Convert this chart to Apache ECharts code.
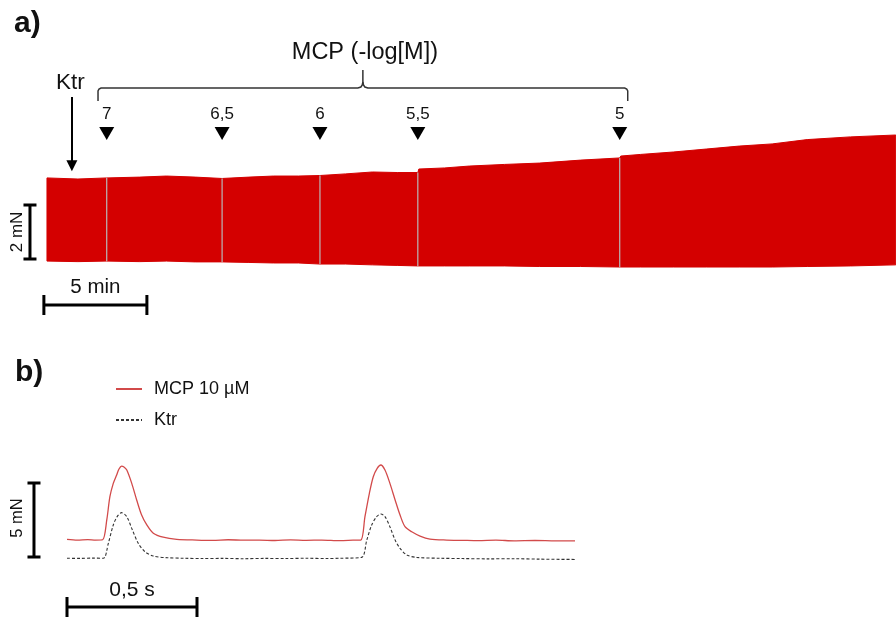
<!DOCTYPE html>
<html>
<head>
<meta charset="utf-8">
<script src="https://cdn.jsdelivr.net/npm/echarts@6/dist/echarts.min.js"></script>
<style>
html,body{margin:0;padding:0;background:#fff;}
#chart{width:896px;height:617px;}
</style>
</head>
<body>
<div id="chart"></div>
<script>
// ---------- Panel a: tension recording (time in min, force in mN) ----------
const bandTimes  = [0, 1.5, 2.9, 4.5, 5.8, 7.2, 8.5, 9.8, 11.0, 12.2, 13.25, 14.5, 15.8, 17.0, 18.0, 18.05, 19.3, 20.5, 22.2, 23.9, 25.9, 27.8, 27.85, 28.8, 30.4, 32.0, 33.6, 35.2, 36.9, 39.0, 41.2];
const bandTop    = [3.41, 3.37, 3.41, 3.44, 3.48, 3.44, 3.39, 3.44, 3.48, 3.48, 3.50, 3.56, 3.63, 3.61, 3.61, 3.74, 3.78, 3.85, 3.91, 3.96, 4.07, 4.15, 4.22, 4.28, 4.37, 4.48, 4.59, 4.67, 4.83, 4.93, 5.00];
const bandBottom = [0.33, 0.31, 0.33, 0.31, 0.33, 0.30, 0.30, 0.28, 0.26, 0.26, 0.22, 0.22, 0.19, 0.17, 0.15, 0.15, 0.15, 0.15, 0.15, 0.13, 0.13, 0.11, 0.11, 0.11, 0.11, 0.11, 0.11, 0.11, 0.13, 0.15, 0.19];
const additionTimes  = [2.9, 8.5, 13.25, 18.0, 27.8];
const additionLabels = ['7', '6,5', '6', '5,5', '5'];
const ktrTime = 1.21;

// ---------- Panel b: single twitches (time in s, force in mN) ----------
const mcpName = 'MCP 10 µM';
const ktrName = 'Ktr';
const mcpTime  = [0, 0.04, 0.08, 0.11, 0.137, 0.153, 0.165, 0.178, 0.191, 0.200, 0.210, 0.219, 0.230, 0.249, 0.268, 0.287, 0.307, 0.332, 0.370, 0.422, 0.499, 0.56, 0.62, 0.68, 0.74, 0.80, 0.86, 0.92, 0.98, 1.05, 1.10, 1.130, 1.146, 1.163, 1.178, 1.193, 1.207, 1.223, 1.242, 1.262, 1.281, 1.300, 1.326, 1.358, 1.396, 1.460, 1.52, 1.582, 1.65, 1.72, 1.80, 1.88, 1.954];
const mcpForce = [1.33, 1.28, 1.31, 1.28, 1.30, 2.64, 4.21, 5.11, 5.68, 6.08, 6.28, 6.22, 6.01, 5.11, 3.99, 2.97, 2.30, 1.74, 1.47, 1.33, 1.28, 1.26, 1.30, 1.27, 1.28, 1.25, 1.29, 1.26, 1.28, 1.24, 1.27, 1.28, 2.86, 4.44, 5.56, 6.13, 6.35, 6.01, 5.11, 3.99, 2.97, 2.18, 1.84, 1.55, 1.35, 1.28, 1.26, 1.24, 1.27, 1.23, 1.25, 1.22, 1.22];
const ktrTraceTime  = [0, 0.05, 0.10, 0.140, 0.159, 0.178, 0.193, 0.210, 0.230, 0.249, 0.274, 0.300, 0.332, 0.383, 0.45, 0.52, 0.60, 0.68, 0.76, 0.84, 0.92, 1.00, 1.050, 1.133, 1.153, 1.172, 1.191, 1.207, 1.223, 1.242, 1.262, 1.281, 1.307, 1.345, 1.435, 1.52, 1.62, 1.72, 1.82, 1.954];
const ktrTraceForce = [0.05, 0.04, 0.06, 0.05, 1.06, 2.30, 2.86, 3.13, 2.86, 2.07, 1.06, 0.49, 0.20, 0.09, 0.05, 0.03, 0.04, 0.02, 0.04, 0.03, 0.05, 0.03, 0.05, 0.11, 1.28, 2.30, 2.86, 3.04, 2.86, 2.18, 1.28, 0.72, 0.27, 0.11, 0.05, 0.03, 0.01, 0.02, -0.01, -0.03];

// ---------- scale bars ----------
const scaleA = { force: 2, time: 5, forceLabel: '2 mN', timeLabel: '5 min' };
const scaleB = { force: 5, time: 0.5, forceLabel: '5 mN', timeLabel: '0,5 s' };

const FONT = '"Liberation Sans", Arial, sans-serif';
const TXT = '#111';
const RED = '#d40000';

function interp(xs, ys, x) {
  for (let i = 0; i < xs.length - 1; i++) {
    if (x >= xs[i] && x <= xs[i + 1]) {
      const f = (x - xs[i]) / (xs[i + 1] - xs[i]);
      return ys[i] + f * (ys[i + 1] - ys[i]);
    }
  }
  return ys[ys.length - 1];
}
function zip(a, b) { return a.map((v, i) => [v, b[i]]); }

function textSeries(axisIdx, items) {
  return {
    type: 'scatter', xAxisIndex: axisIdx, yAxisIndex: axisIdx, symbolSize: 0, silent: true, z: 10,
    itemStyle: { color: '#000', opacity: 1 },
    data: items.map(it => ({
      value: it.pos,
      label: { show: true, position: 'inside', formatter: it.text, fontSize: it.size, fontFamily: FONT, color: TXT,
        rotate: it.rotate || 0, opacity: 1, textBorderWidth: 0 }
    }))
  };
}
function segSeries(axisIdx, segs, style, extra) {
  return Object.assign({
    type: 'lines', coordinateSystem: 'cartesian2d', xAxisIndex: axisIdx, yAxisIndex: axisIdx,
    polyline: true, silent: true, z: 5,
    lineStyle: style,
    data: segs.map(c => ({ coords: c }))
  }, extra || {});
}

// panel a geometry (data units)
const pxA = 1 / 20.6, pyA = 1 / 27;
const bL = additionTimes[0] - 8.7 * pxA, bR = additionTimes[additionTimes.length - 1] + 8 * pxA, bC = (bL + bR) / 2;
const yH = 6.74, yEnd = 6.26, yTip = 7.41;
const braceLeft = [[bL, yEnd], [bL, yH - 3 * pyA], [bL + 1 * pxA, yH - 1 * pyA], [bL + 3 * pxA, yH], [bC - 5 * pxA, yH], [bC - 2 * pxA, yH + 1 * pyA], [bC - 0.6 * pxA, yH + 3 * pyA], [bC, yH + 6 * pyA], [bC, yTip]];
const braceRight = [[bC, yH + 6 * pyA], [bC + 0.6 * pxA, yH + 3 * pyA], [bC + 2 * pxA, yH + 1 * pyA], [bC + 5 * pxA, yH], [bR - 3 * pxA, yH], [bR - 1 * pxA, yH - 1 * pyA], [bR, yH - 3 * pyA], [bR, yEnd]];

const sA = { x: -0.825, y0: 0.41, hx0: -0.15, hy: -1.30 };
const barA = [
  [[sA.x, sA.y0], [sA.x, sA.y0 + scaleA.force]],
  [[sA.x - 6.5 * pxA, sA.y0], [sA.x + 6.5 * pxA, sA.y0]],
  [[sA.x - 6.5 * pxA, sA.y0 + scaleA.force], [sA.x + 6.5 * pxA, sA.y0 + scaleA.force]],
  [[sA.hx0, sA.hy], [sA.hx0 + scaleA.time, sA.hy]],
  [[sA.hx0, sA.hy - 10 * pyA], [sA.hx0, sA.hy + 10 * pyA]],
  [[sA.hx0 + scaleA.time, sA.hy - 10 * pyA], [sA.hx0 + scaleA.time, sA.hy + 10 * pyA]]
];
const pxB = 1 / 260, pyB = 1 / 14.8;
const sB = { x: -0.127, y0: 0.14, hx0: 0, hy: -3.24 };
const barB = [
  [[sB.x, sB.y0], [sB.x, sB.y0 + scaleB.force]],
  [[sB.x - 6.5 * pxB, sB.y0], [sB.x + 6.5 * pxB, sB.y0]],
  [[sB.x - 6.5 * pxB, sB.y0 + scaleB.force], [sB.x + 6.5 * pxB, sB.y0 + scaleB.force]],
  [[sB.hx0, sB.hy], [sB.hx0 + scaleB.time, sB.hy]],
  [[sB.hx0, sB.hy - 10 * pyB], [sB.hx0, sB.hy + 10 * pyB]],
  [[sB.hx0 + scaleB.time, sB.hy - 10 * pyB], [sB.hx0 + scaleB.time, sB.hy + 10 * pyB]]
];

const chart = echarts.init(document.getElementById('chart'), null, { renderer: 'canvas' });
const option = {
  animation: false,
  backgroundColor: '#ffffff',
  grid: [
    { left: 0, right: 0, top: 0, height: 330 },
    { left: 0, right: 0, top: 430, height: 187 }
  ],
  xAxis: [
    { gridIndex: 0, type: 'value', min: -2.28, max: 41.21, show: false },
    { gridIndex: 1, type: 'value', min: -0.2577, max: 3.1885, show: false }
  ],
  yAxis: [
    { gridIndex: 0, type: 'value', min: -2.2222, max: 10, show: false },
    { gridIndex: 1, type: 'value', min: -3.919, max: 8.716, show: false }
  ],
  legend: {
    data: [mcpName, ktrName], orient: 'vertical', left: 110, top: 375,
    itemWidth: 26, itemHeight: 14, itemGap: 13,
    itemStyle: { opacity: 0, borderWidth: 0 },
    textStyle: { fontSize: 18, fontFamily: FONT, color: TXT, padding: [0, 0, 0, 7] },
    selectedMode: false
  },
  graphic: [
    { type: 'text', left: 14, top: 9, style: { text: 'a)', font: 'bold 30px ' + FONT, fill: TXT } },
    { type: 'text', left: 15, top: 358, style: { text: 'b)', font: 'bold 30px ' + FONT, fill: TXT } }
  ],
  series: [
    // band (envelope of the contraction recording) drawn as a polygon through the axis scales
    { type: 'custom', xAxisIndex: 0, yAxisIndex: 0, silent: true, z: 2, clip: true,
      data: [[bandTimes[0], bandTop[0]]],
      renderItem: function (params, api) {
        const pts = [];
        for (let i = 0; i < bandTimes.length; i++) pts.push(api.coord([bandTimes[i], bandTop[i]]));
        for (let i = bandTimes.length - 1; i >= 0; i--) pts.push(api.coord([bandTimes[i], bandBottom[i]]));
        return { type: 'polygon', shape: { points: pts }, style: { fill: RED, stroke: RED, lineWidth: 1 } };
      } },
    // grey addition marks inside the band
    segSeries(0, additionTimes.map(t => [[t, interp(bandTimes, bandBottom, t)], [t, interp(bandTimes, bandTop, t)]]),
      { color: '#b8b8b8', width: 1.2, opacity: 1 }, { z: 6 }),
    // triangles with concentration labels
    { type: 'scatter', xAxisIndex: 0, yAxisIndex: 0, symbol: 'triangle', symbolRotate: 180, symbolSize: [15, 13], silent: true, z: 7,
      itemStyle: { color: '#000', opacity: 1 },
      label: { show: true, position: 'top', distance: 4, fontSize: 17, fontFamily: FONT, color: TXT,
        formatter: p => additionLabels[p.dataIndex] },
      data: additionTimes.map(t => [t, 5.06]) },
    // brace
    segSeries(0, [braceLeft, braceRight], { color: '#333', width: 1.5, opacity: 1 }),
    // Ktr arrow
    segSeries(0, [[[ktrTime, 6.41], [ktrTime, 3.86]]], { color: '#000', width: 2, opacity: 1 },
      { polyline: false, symbol: ['none', 'triangle'], symbolSize: 11 }),
    // scale bars
    segSeries(0, barA, { color: '#000', width: 3, opacity: 1 }),
    segSeries(1, barB, { color: '#000', width: 3, opacity: 1 }),
    // texts panel a
    textSeries(0, [
      { pos: [bC + 0.1, 8.04], text: 'MCP (-log[M])', size: 23.5 },
      { pos: [ktrTime - 0.08, 6.93], text: 'Ktr', size: 22.5 },
      { pos: [-1.46, 1.41], text: scaleA.forceLabel, size: 17, rotate: 90 },
      { pos: [sA.hx0 + scaleA.time / 2, -0.63], text: scaleA.timeLabel, size: 20.5 }
    ]),
    // texts panel b
    textSeries(1, [
      { pos: [-0.192, 2.77], text: scaleB.forceLabel, size: 16.5, rotate: 90 },
      { pos: [sB.hx0 + scaleB.time / 2, -2.09], text: scaleB.timeLabel, size: 21 }
    ]),
    // traces
    { name: mcpName, type: 'line', xAxisIndex: 1, yAxisIndex: 1, symbol: 'none', smooth: 0.3, silent: true,
      lineStyle: { color: '#d24a4a', width: 1.3 }, itemStyle: { color: '#d24a4a' },
      data: zip(mcpTime, mcpForce) },
    { name: ktrName, type: 'line', xAxisIndex: 1, yAxisIndex: 1, symbol: 'none', smooth: 0.3, silent: true,
      lineStyle: { color: '#333', width: 1.1, type: [3, 2] }, itemStyle: { color: '#333' },
      data: zip(ktrTraceTime, ktrTraceForce) }
  ]
};
chart.setOption(option);
</script>
</body>
</html>
